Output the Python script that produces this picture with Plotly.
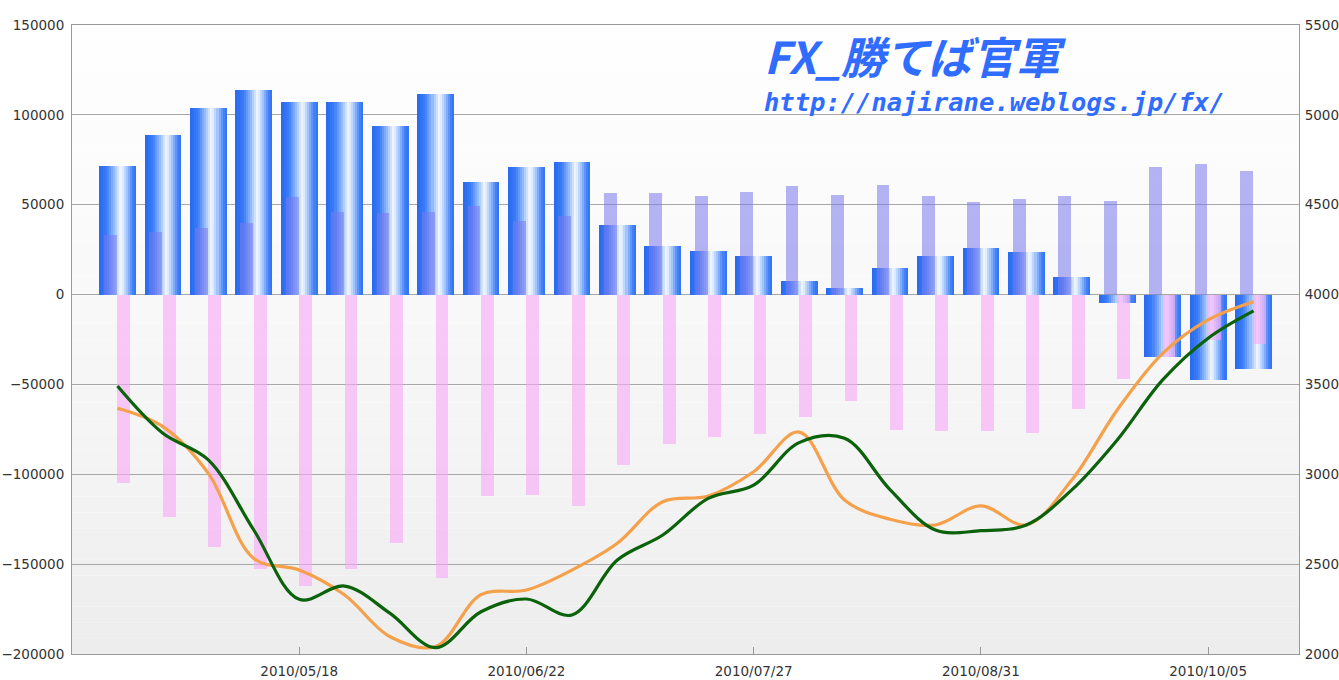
import plotly.graph_objects as go

# ---------------- data ----------------
dates = ["2010-04-20", "2010-04-27", "2010-05-04", "2010-05-11", "2010-05-18",
         "2010-05-25", "2010-06-01", "2010-06-08", "2010-06-15", "2010-06-22",
         "2010-06-29", "2010-07-06", "2010-07-13", "2010-07-20", "2010-07-27",
         "2010-08-03", "2010-08-10", "2010-08-17", "2010-08-24", "2010-08-31",
         "2010-09-07", "2010-09-14", "2010-09-21", "2010-09-28", "2010-10-05",
         "2010-10-12"]

net_bars = [71500, 89000, 103700, 114000, 107000, 107000, 94000, 111600, 62500, 70800,
            73600, 38700, 27000, 24300, 21500, 7600, 3500, 14600, 21500, 25800,
            23500, 9600, -4500, -34900, -47500, -41400]

long_bars = [33300, 34800, 36900, 39700, 54300, 46000, 45200, 46000, 49300, 41100,
             43700, 56400, 56400, 54900, 56900, 60400, 55600, 61200, 54900, 51500,
             53400, 54900, 52100, 70800, 72900, 68800]

short_bars = [-104700, -123600, -140300, -152500, -162000, -152500, -138100, -157500, -111900, -111500,
              -117500, -94800, -83300, -79100, -77800, -68100, -59400, -75400, -76100, -76100,
              -76900, -63500, -47100, -35000, -25300, -27700]

green_line = [3491, 3228, 3080, 2690, 2304, 2378, 2226, 2035, 2235, 2306,
              2217, 2523, 2662, 2866, 2940, 3176, 3200, 2915, 2690, 2686,
              2718, 2913, 3191, 3525, 3757, 3909]

orange_line = [3367, 3265, 3005, 2532, 2467, 2328, 2096, 2041, 2330, 2356,
               2467, 2616, 2847, 2879, 3014, 3235, 2857, 2750, 2718, 2824,
               2718, 2968, 3358, 3673, 3859, 3960]

x_tick_vals = ["2010-05-18", "2010-06-22", "2010-07-27", "2010-08-31", "2010-10-05"]
x_tick_text = ["2010/05/18", "2010/06/22", "2010/07/27", "2010/08/31", "2010/10/05"]
left_ticks = [-200000, -150000, -100000, -50000, 0, 50000, 100000, 150000]
right_ticks = [2000, 2500, 3000, 3500, 4000, 4500, 5000, 5500]

title_text = "FX_勝てば官軍"
url_text = "http://najirane.weblogs.jp/fx/"

# ---------------- styling helpers ----------------
WEEK = 7 * 24 * 3600 * 1000
BLUE_W = 0.807 * WEEK

stops = [(0.0, (38, 104, 240)), (0.22, (60, 124, 246)), (0.42, (150, 188, 251)),
         (0.6, (246, 249, 255)), (0.76, (155, 192, 252)), (0.9, (72, 132, 246)),
         (1.0, (46, 112, 245))]


def grad(t):
    for (a, ca), (b, cb) in zip(stops[:-1], stops[1:]):
        if a <= t <= b:
            f = (t - a) / (b - a)
            c = [round(ca[i] + (cb[i] - ca[i]) * f) for i in range(3)]
            return f"rgb({c[0]},{c[1]},{c[2]})"
    return "rgb(46,112,245)"


fig = go.Figure()

N = 18
for k in range(N):
    t = (k + 0.5) / N
    fig.add_trace(go.Bar(
        x=dates, y=net_bars, xaxis="x", yaxis="y",
        offset=-BLUE_W / 2 + k * BLUE_W / N, width=BLUE_W / N * 1.04,
        marker=dict(color=grad(t), line=dict(width=0)),
        showlegend=False, hoverinfo="skip"))

fig.add_trace(go.Bar(
    x=dates, y=long_bars, offset=-0.295 * WEEK, width=0.28 * WEEK,
    marker=dict(color="rgba(120,120,238,0.55)", line=dict(width=0)),
    showlegend=False))

fig.add_trace(go.Bar(
    x=dates, y=short_bars, offset=0.0, width=0.28 * WEEK,
    marker=dict(color="rgba(246,168,246,0.6)", line=dict(width=0)),
    showlegend=False))

fig.add_trace(go.Scatter(
    x=dates, y=orange_line, yaxis="y2", mode="lines",
    line=dict(color="#f5a04a", width=3.2, shape="spline", smoothing=1.0),
    showlegend=False))

fig.add_trace(go.Scatter(
    x=dates, y=green_line, yaxis="y2", mode="lines",
    line=dict(color="#0b620b", width=3.2, shape="spline", smoothing=1.0),
    showlegend=False))

# background gradient of plot area
bands = 40
shapes = []
for b in range(bands):
    y0 = b / bands
    y1 = (b + 1) / bands
    t = 1 - (b + 0.5) / bands  # 0 top, 1 bottom
    g = round(254 - 17 * (t ** 1.3))
    shapes.append(dict(type="rect", xref="paper", yref="paper", x0=0, x1=1, y0=y0, y1=y1,
                       fillcolor=f"rgb({g},{g},{g})", line=dict(width=0), layer="below"))

axis_font = dict(family="DejaVu Sans", size=13.5, color="#333333")

fig.update_layout(
    width=1339, height=680,
    margin=dict(l=72, r=40, t=25, b=26),
    paper_bgcolor="white", plot_bgcolor="white",
    barmode="overlay", bargap=0,
    shapes=shapes,
    xaxis=dict(type="date", range=["2010-04-13", "2010-10-19"],
               tickvals=x_tick_vals, ticktext=x_tick_text,
               ticks="inside", ticklen=7, tickcolor="#999999",
               showgrid=False, showline=True, linecolor="#999999", linewidth=1,
               mirror=True, tickfont=axis_font, ticklabelstandoff=5,
               automargin=False),
    yaxis=dict(range=[-200000, 150000], tickvals=left_ticks, tickformat="d",
               showgrid=True, gridcolor="#a8a8a8", gridwidth=1, zeroline=False,
               showline=True, linecolor="#999999", ticks="", tickfont=axis_font,
               ticklabelstandoff=4, automargin=False),
    yaxis2=dict(range=[2000, 5500], tickvals=right_ticks, tickformat="d",
                overlaying="y", side="right",
                showgrid=False, zeroline=False, showline=True, linecolor="#999999",
                ticks="", tickfont=axis_font, ticklabelstandoff=2, automargin=False),
    annotations=[
        dict(text=title_text, xref="paper", yref="paper", x=0.562, y=1.007,
             xanchor="left", yanchor="top", showarrow=False,
             font=dict(family="Noto Sans CJK JP", size=44, color="#2f6cff",
                       weight="bold", style="italic")),
        dict(text=url_text, xref="paper", yref="paper", x=0.562, y=0.904,
             xanchor="left", yanchor="top", showarrow=False,
             font=dict(family="DejaVu Sans Mono", size=25.5, color="#2f6cff",
                       weight="bold", style="italic")),
    ],
)

fig.write_html("out.html", config={"displayModeBar": False},
               post_script="document.body.style.margin='0';document.body.style.overflow='hidden';")
